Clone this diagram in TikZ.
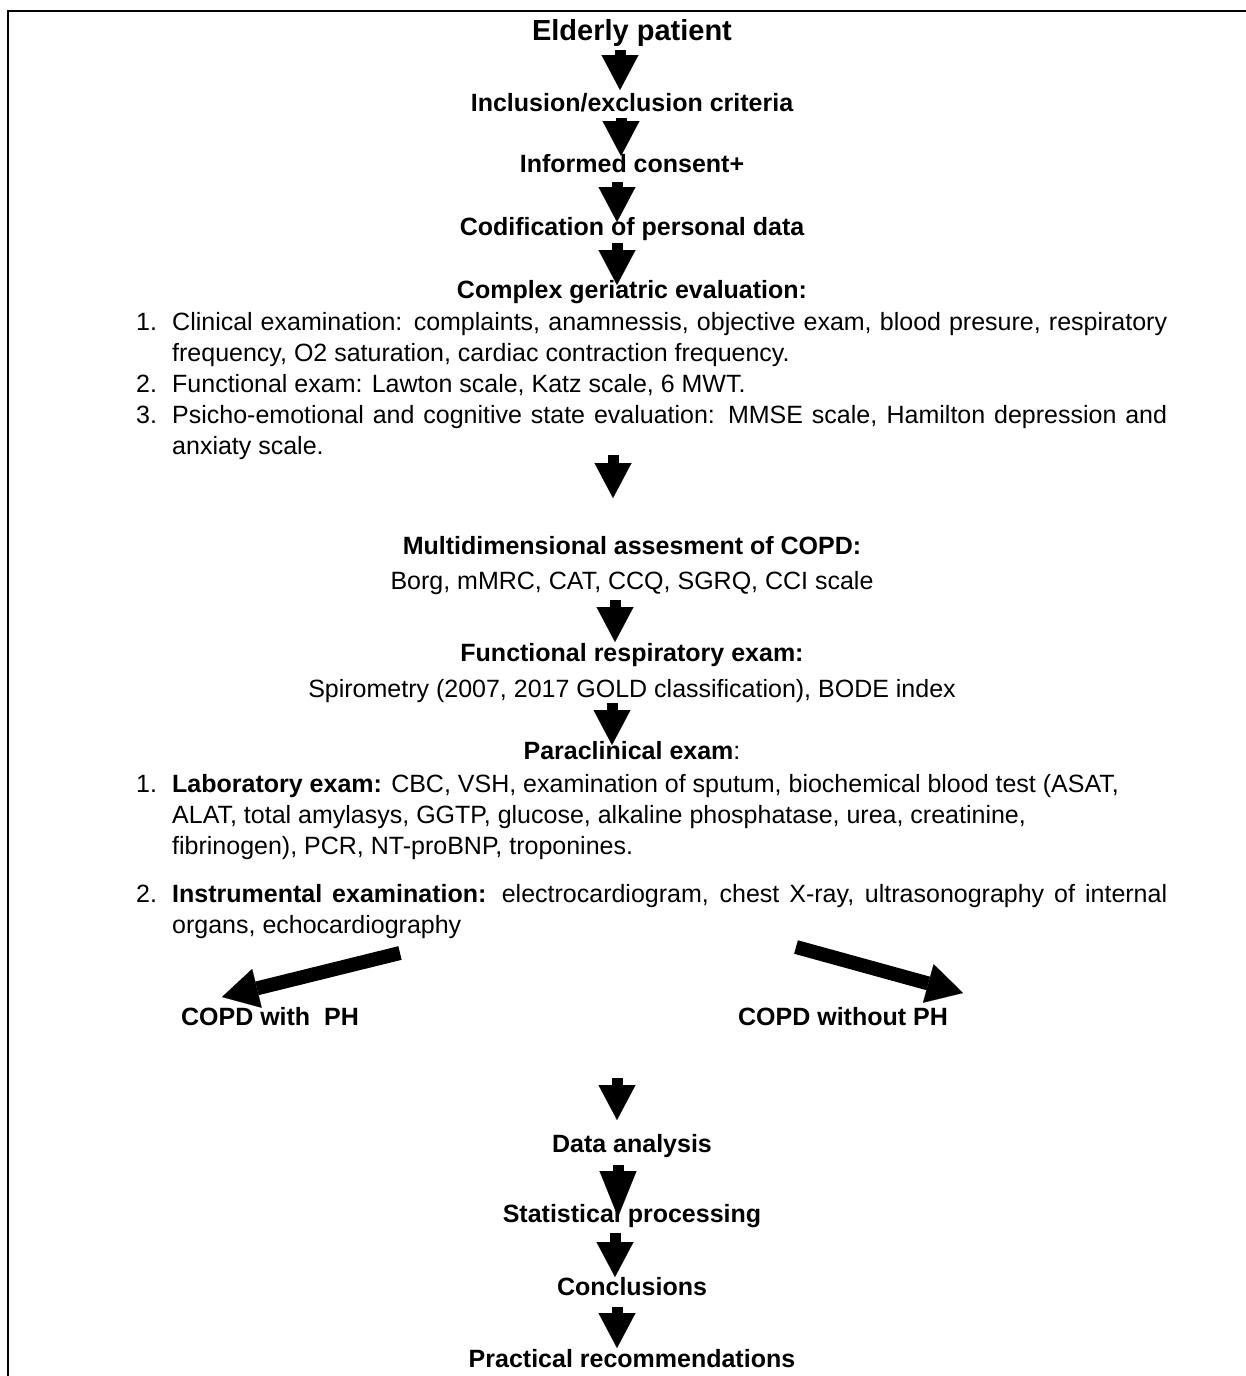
\documentclass[tikz,border=0pt]{standalone}
\usepackage{fontspec}
\setmainfont{Liberation Sans}
\usetikzlibrary{arrows.meta}
\tikzset{
  txt/.style={anchor=base, inner sep=0pt, font=\fontsize{25}{31}\selectfont},
  ttl/.style={txt, font=\fontsize{25}{31}\selectfont\bfseries},
  bigttl/.style={txt, font=\fontsize{29}{35}\selectfont\bfseries},
  lst/.style={txt, anchor=base west},
  downarr/.style={line width=11pt, -{Triangle[length=35pt,width=37pt,line width=0.1pt]}},
  diagarr/.style={line width=14pt, -{Triangle[length=36pt,width=40pt,line width=0.1pt]}},
  frame/.style={line width=2.5pt}
}
\begin{document}
\begin{tikzpicture}[x=1pt,y=-1pt]
\useasboundingbox (0,0) rectangle (1246,1376);
\fill[white] (0,0) rectangle (1246,1376);
\draw[frame] (1246,11) -- (8,11) -- (8,1376);

% titles
\node[bigttl] (n1) at (632,40) {Elderly patient};
\node[ttl] (n2) at (632,111) {Inclusion/exclusion criteria};
\node[ttl] (n3) at (632,172) {Informed consent+};
\node[ttl] (n4) at (632,235) {Codification of personal data};
\node[ttl] (n5) at (632,298) {Complex geriatric evaluation:};

% list 1
\node[lst] (l1n) at (136,330) {1.};
\node[lst] (l1a) at (172,330) {\makebox[995pt][s]{Clinical examination: complaints, anamnessis, objective exam, blood presure, respiratory}};
\node[lst] (l1b) at (172,361) {frequency, O2 saturation, cardiac contraction frequency.};
\node[lst] (l2n) at (136,392) {2.};
\node[lst] (l2a) at (172,392) {Functional exam: Lawton scale, Katz scale, 6 MWT.};
\node[lst] (l3n) at (136,423) {3.};
\node[lst] (l3a) at (172,423) {\makebox[995pt][s]{Psicho-emotional and cognitive state evaluation: MMSE scale, Hamilton depression and}};
\node[lst] (l3b) at (172,454) {anxiaty scale.};

\node[ttl] (n6) at (632,554) {Multidimensional assesment of COPD:};
\node[txt] (n6b) at (632,589) {Borg, mMRC, CAT, CCQ, SGRQ, CCI scale};
\node[ttl] (n7) at (632,661) {Functional respiratory exam:};
\node[txt] (n7b) at (632,697) {Spirometry (2007, 2017 GOLD classification), BODE index};
\node[txt] (n8) at (632,759) {\textbf{Paraclinical exam}:};

% list 2
\node[lst] (p1n) at (136,792) {1.};
\node[lst] (p1a) at (172,792) {\textbf{Laboratory exam:} CBC, VSH, examination of sputum, biochemical blood test (ASAT,};
\node[lst] (p1b) at (172,823) {ALAT, total amylasys, GGTP, glucose, alkaline phosphatase, urea, creatinine,};
\node[lst] (p1c) at (172,854) {fibrinogen), PCR, NT-proBNP, troponines.};
\node[lst] (p2n) at (136,902) {2.};
\node[lst] (p2a) at (172,902) {\makebox[995pt][s]{\textbf{Instrumental examination:} electrocardiogram, chest X-ray, ultrasonography of internal}};
\node[lst] (p2b) at (172,933) {organs, echocardiography};

\node[ttl] (c1) at (270,1025) {COPD with~~PH};
\node[ttl] (c2) at (843,1025) {COPD without PH};

\node[ttl] (d1) at (632,1152) {Data analysis};
\node[ttl] (d2) at (632,1222) {Statistical processing};
\node[ttl] (d3) at (632,1295) {Conclusions};
\node[ttl] (d4) at (632,1367) {Practical recommendations};

% arrow coordinates
\coordinate (aS) at (620,50);   \coordinate (aE) at (620,90);
\coordinate (bS) at (621,118);  \coordinate (bE) at (621,156);
\coordinate (cS) at (617,182);  \coordinate (cE) at (617,222);
\coordinate (dS) at (617,243);  \coordinate (dE) at (617,285);
\coordinate (eS) at (613,455);  \coordinate (eE) at (613,498);
\coordinate (fS) at (615,600);  \coordinate (fE) at (615,642);
\coordinate (gS) at (612,703);  \coordinate (gE) at (612,745);
\coordinate (hS) at (617,1078); \coordinate (hE) at (617,1120);
\coordinate (iS) at (618,1165); \coordinate (iE) at (618,1217);
\coordinate (jS) at (615,1233); \coordinate (jE) at (615,1277);
\coordinate (kS) at (617,1307); \coordinate (kE) at (617,1348);
\coordinate (lS) at (400,953);  \coordinate (lE) at (222,997);
\coordinate (rS) at (796,947);  \coordinate (rE) at (963,993);

\draw[downarr] (aS) -- (aE);
\draw[downarr] (bS) -- (bE);
\draw[downarr] (cS) -- (cE);
\draw[downarr] (dS) -- (dE);
\draw[downarr] (eS) -- (eE);
\draw[downarr] (fS) -- (fE);
\draw[downarr] (gS) -- (gE);
\draw[downarr] (hS) -- (hE);
\draw[line width=11pt, -{Triangle[length=46pt,width=37pt,line width=0.1pt]}] (iS) -- (iE);
\draw[downarr] (jS) -- (jE);
\draw[downarr] (kS) -- (kE);
\draw[diagarr] (lS) -- (lE);
\draw[diagarr] (rS) -- (rE);
\end{tikzpicture}
\end{document}
